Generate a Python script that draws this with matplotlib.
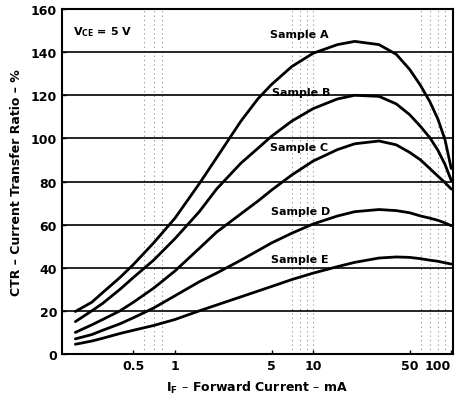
import matplotlib
matplotlib.use("Agg")
import matplotlib.pyplot as plt

plt.rcParams['mathtext.default'] = 'regular'

# forward current (mA) where the curves were read
i_f = [0.19, 0.25, 0.3, 0.4, 0.5, 0.7, 1, 1.5, 2, 3, 4, 5, 7, 10,
       15, 20, 30, 40, 50, 60, 70, 80, 90, 100]

# CTR (%)
ctr_a = [19.7, 24, 28.5, 35.5, 41.5, 51.5, 63, 79, 91, 108, 118.5, 125, 133.3, 139.5,
         143.5, 145, 143.5, 139, 132, 124.5, 117, 109, 99.5, 86]
ctr_b = [15, 20, 23.5, 30, 35.5, 43.5, 53.5, 66, 76.5, 88.5, 95.5, 101, 108, 113.8,
         118.3, 120, 119.5, 116, 111, 105.5, 100.3, 94.5, 88, 80.5]
ctr_c = [10, 13.5, 16, 20, 24, 30.5, 38.5, 49, 56.5, 65, 71, 76, 83, 89.5,
         94.8, 97.5, 98.8, 97, 93.5, 90, 86, 82.5, 79.5, 76.5]
ctr_d = [7, 9, 11, 14, 16.8, 21.3, 27, 33.5, 37.5, 43.5, 48, 51.5, 56, 60.3,
         64, 66, 67, 66.5, 65.5, 64, 63, 62, 60.8, 59.5]
ctr_e = [4.5, 6, 7.3, 9.5, 11, 13.2, 16, 20, 22.7, 26.5, 29.2, 31.3, 34.5, 37.5,
         40.5, 42.5, 44.5, 45, 44.8, 44.2, 43.5, 43, 42.3, 41.7]

names = ["Sample A", "Sample B", "Sample C", "Sample D", "Sample E"]
label_pos = [(4.88, 148.4), (5.04, 121.4), (4.88, 96.2), (4.95, 66.5), (4.95, 44)]

x_ticks = [0.5, 1, 5, 10, 50, 100]
x_tick_labels = ["0.5", "1", "5", "10", "50", "100"]
y_ticks = [0, 20, 40, 60, 80, 100, 120, 140, 160]
dotted_x = [0.6, 0.7, 0.8, 7, 8, 9, 10, 60, 70, 80, 90]

fig = plt.figure(figsize=(4.59, 4.02), dpi=100)
ax = fig.add_axes([0.135, 0.117, 0.852, 0.858])

ax.set_xscale('log')
ax.set_xlim(0.152, 103)
ax.set_ylim(0, 160)

for xv in dotted_x:
    ax.axvline(xv, color='black', lw=0.8, ls=(0, (1, 3)), alpha=0.45, zorder=1)
for yv in y_ticks[1:-1]:
    ax.axhline(yv, color='black', lw=1.2, zorder=1)

for ys in [ctr_a, ctr_b, ctr_c, ctr_d, ctr_e]:
    ax.plot(i_f, ys, color='black', lw=2, zorder=3, solid_capstyle='round',
            solid_joinstyle='round')

for name, (px, py) in zip(names, label_pos):
    ax.text(px, py, name, fontsize=8, fontweight='bold', va='center', ha='left',
            zorder=4)

ax.text(0.028, 0.936, r"V$_{CE}$ = 5 V", transform=ax.transAxes, fontsize=8,
        fontweight='bold', va='center', ha='left')

ax.set_xticks(x_ticks)
ax.set_xticklabels(x_tick_labels)
ax.minorticks_off()
ax.set_yticks(y_ticks)
ax.tick_params(axis='both', direction='in', length=3, labelsize=9, width=1)
for lab in ax.get_xticklabels() + ax.get_yticklabels():
    lab.set_fontweight('bold')
ax.get_xticklabels()[-1].set_horizontalalignment('right')

ax.set_xlabel(r"I$_F$ – Forward Current – mA", fontsize=9, fontweight='bold',
              labelpad=5)
ax.set_ylabel("CTR – Current Transfer Ratio – %", fontsize=9, fontweight='bold',
              labelpad=6)

for s in ax.spines.values():
    s.set_linewidth(1.5)

fig.savefig("out.png", dpi=100)
